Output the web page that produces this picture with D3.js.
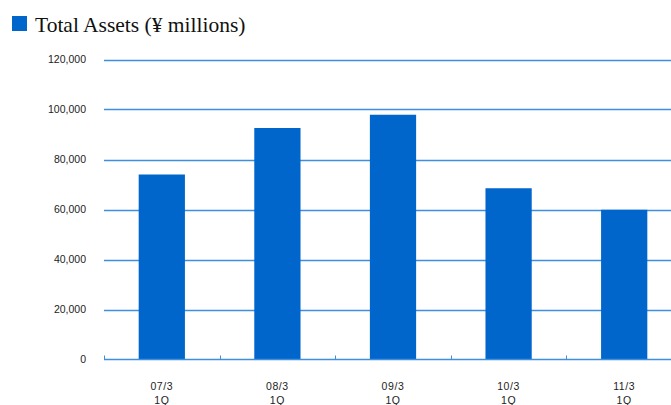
<!DOCTYPE html>
<html>
<head>
<meta charset="utf-8">
<script src="https://cdn.jsdelivr.net/npm/d3@7"></script>
<style>
  html, body { margin: 0; padding: 0; background: #fff; }
  svg { display: block; }
</style>
</head>
<body>
<svg id="chart" width="671" height="405"></svg>
<script>
// Total assets by fiscal period (¥ millions)
const periods = ["07/3 1Q", "08/3 1Q", "09/3 1Q", "10/3 1Q", "11/3 1Q"];
const totalAssets = [74000, 92600, 97900, 68500, 59900];
const yTicks = [0, 20000, 40000, 60000, 80000, 100000, 120000];
const title = "Total Assets (¥ millions)";

const svg = d3.select("#chart");
const barColor = "#0066cc";
const gridColor = "#3f8fe0";

const plotLeft = 104, plotBottom = 359.5, plotTop = 59.5;
const bandW = 115.6;

const x = d3.scaleBand()
  .domain(periods)
  .range([plotLeft, plotLeft + bandW * periods.length])
  .paddingInner(0.6)
  .paddingOuter(0.3);

const y = d3.scaleLinear().domain([0, 120000]).range([plotBottom, plotTop]);

// Legend / title
svg.append("rect").attr("x", 12).attr("y", 16).attr("width", 15).attr("height", 15).attr("fill", barColor);
svg.append("text").attr("x", 35).attr("y", 31.5)
  .attr("font-family", "'Liberation Serif', 'Times New Roman', serif")
  .attr("font-size", 21.5).attr("fill", "#111").text(title);

// Horizontal gridlines
svg.append("g").selectAll("line")
  .data(yTicks.filter(d => d > 0))
  .join("line")
  .attr("x1", plotLeft).attr("x2", 671)
  .attr("y1", d => Math.round(y(d)) + 0.5).attr("y2", d => Math.round(y(d)) + 0.5)
  .attr("stroke", gridColor).attr("stroke-width", 1.4);

// Y axis labels
const yAxis = d3.axisLeft(y).tickValues(yTicks).tickSize(0).tickPadding(18)
  .tickFormat(d3.format(","));
const yg = svg.append("g").attr("transform", `translate(${plotLeft},0)`).call(yAxis);
yg.select(".domain").remove();
yg.selectAll("text")
  .attr("font-family", "'Liberation Sans', Arial, sans-serif")
  .attr("font-size", 10.5).attr("fill", "#222");

// Bars
svg.append("g").selectAll("rect")
  .data(periods.map((p, i) => ({ p, v: totalAssets[i] })))
  .join("rect")
  .attr("x", d => x(d.p))
  .attr("width", x.bandwidth())
  .attr("y", d => y(d.v))
  .attr("height", d => plotBottom - y(d.v))
  .attr("fill", barColor);

// Category axis line with ticks at band boundaries
svg.append("line").attr("x1", plotLeft).attr("x2", 671)
  .attr("y1", plotBottom).attr("y2", plotBottom)
  .attr("stroke", gridColor).attr("stroke-width", 1.4);
svg.append("g").selectAll("line")
  .data(d3.range(periods.length))
  .join("line")
  .attr("x1", i => Math.round(plotLeft + i * bandW) + 0.5)
  .attr("x2", i => Math.round(plotLeft + i * bandW) + 0.5)
  .attr("y1", plotBottom).attr("y2", plotBottom - 4)
  .attr("stroke", gridColor).attr("stroke-width", 1);

// Category labels (two lines each)
const xl = svg.append("g").selectAll("text")
  .data(periods)
  .join("text")
  .attr("x", d => x(d) + x.bandwidth() / 2)
  .attr("y", 390)
  .attr("text-anchor", "middle")
  .attr("font-family", "'Liberation Sans', Arial, sans-serif")
  .attr("letter-spacing", 0.6)
  .attr("font-size", 10.5).attr("fill", "#222");
xl.append("tspan").attr("x", d => x(d) + x.bandwidth() / 2).text(d => d.split(" ")[0]);
xl.append("tspan").attr("x", d => x(d) + x.bandwidth() / 2).attr("dy", 13.5).text(d => d.split(" ")[1]);
</script>
</body>
</html>
